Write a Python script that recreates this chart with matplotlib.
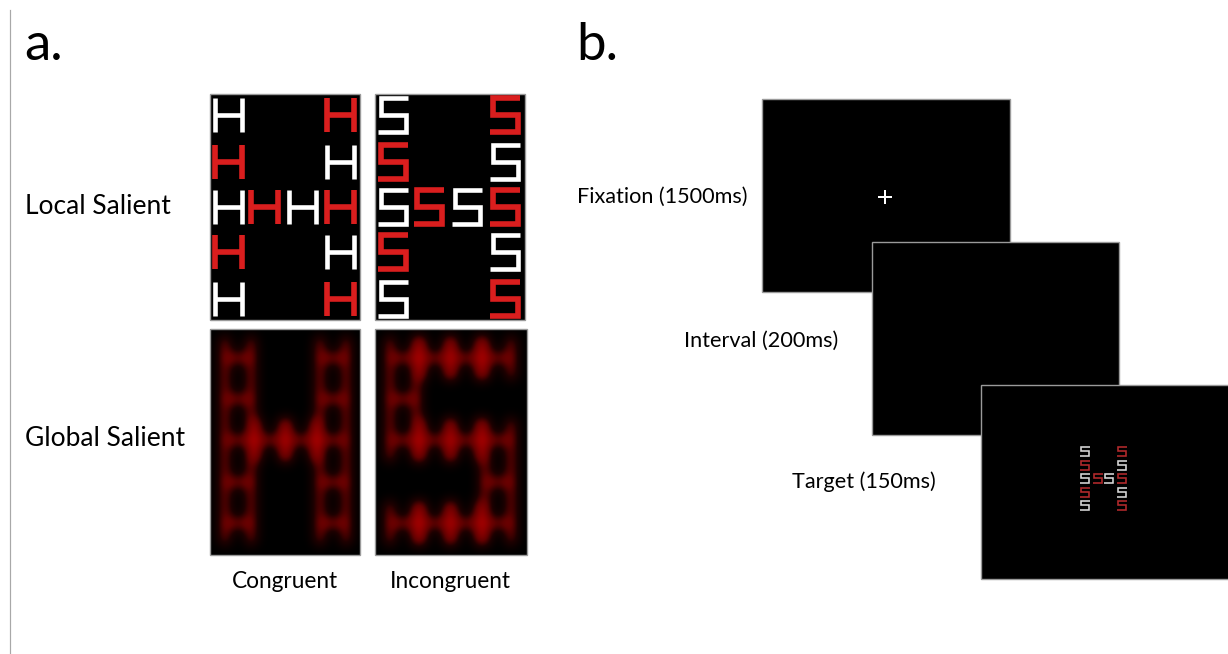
import numpy as np
import matplotlib.pyplot as plt
from matplotlib.patches import Rectangle
from matplotlib.colors import LinearSegmentedColormap

plt.rcParams['font.family'] = ['Lato', 'DejaVu Sans']

# letter arrangement, 5 rows x 4 cols: 0 = empty, 1 = white, 2 = red
LOCAL_LAYOUT = [[1, 0, 0, 2],
                [2, 0, 0, 1],
                [1, 2, 1, 2],
                [2, 0, 0, 1],
                [1, 0, 0, 2]]
# global shapes for the blurred (global salient) stimuli
GLOBAL_H = [[1, 0, 0, 1],
            [1, 0, 0, 1],
            [1, 1, 1, 1],
            [1, 0, 0, 1],
            [1, 0, 0, 1]]
GLOBAL_S = [[1, 1, 1, 1],
            [1, 0, 0, 0],
            [1, 1, 1, 1],
            [0, 0, 0, 1],
            [1, 1, 1, 1]]
ROW_LABELS = ["Local Salient", "Global Salient"]
COL_LABELS = ["Congruent", "Incongruent"]
STEPS = ["Fixation", "Interval", "Target"]
DURATIONS_MS = [1500, 200, 150]
PANEL_LABELS = ["a.", "b."]

W, H = 1228, 654
fig = plt.figure(figsize=(W / 100, H / 100), dpi=100)
ax = fig.add_axes([0, 0, 1, 1])

PX = 72 / 100  # points per pixel


def box(x0, y0, x1, y1, z=1):
    ax.add_patch(Rectangle((x0, y0), x1 - x0, y1 - y0, facecolor='black',
                           edgecolor='#9a9a9a', lw=1.0, zorder=z))


def draw_H(cx, cy, w, h, color, lw, z):
    kw = dict(color=color, lw=lw * PX, solid_capstyle='butt', zorder=z)
    ax.plot([cx - w / 2, cx - w / 2], [cy - h / 2, cy + h / 2], **kw)
    ax.plot([cx + w / 2, cx + w / 2], [cy - h / 2, cy + h / 2], **kw)
    ax.plot([cx - w / 2, cx + w / 2], [cy, cy], **kw)


def draw_S(cx, cy, w, h, color, lw, z):
    l, r, t, b = cx - w / 2, cx + w / 2, cy - h / 2, cy + h / 2
    ax.plot([r + lw / 2, l, l, r, r, l - lw / 2], [t, t, cy, cy, b, b],
            color=color, lw=lw * PX, solid_joinstyle='miter',
            solid_capstyle='butt', zorder=z)


def letter_grid(layout, kind, x0, y0, xs, ys, w, h, lw, colors, z, red_extra=0.0):
    for r, row in enumerate(layout):
        for c, v in enumerate(row):
            if v == 0:
                continue
            f = draw_H if kind == 'H' else draw_S
            f(x0 + xs[c], y0 + ys[r], w, h, colors[v], lw + (red_extra if v == 2 else 0), z)


def blurred(shape, size, xs, ys, w=26, h=41, stroke=5, sigma=6.2):
    ny, nx = size
    img = np.zeros((ny, nx))
    yy, xx = np.mgrid[0:ny, 0:nx] + 0.5
    for r, row in enumerate(shape):
        for c, v in enumerate(row):
            if not v:
                continue
            cx, cy = xs[c], ys[r]
            vert = (np.abs(yy - cy) <= h / 2)
            img[vert & (np.abs(xx - (cx - w / 2)) <= stroke / 2)] = 1
            img[vert & (np.abs(xx - (cx + w / 2)) <= stroke / 2)] = 1
            img[(np.abs(yy - cy) <= stroke / 2) & (np.abs(xx - cx) <= w / 2)] = 1
    k = np.arange(-int(3 * sigma), int(3 * sigma) + 1)
    k = np.exp(-k ** 2 / (2 * sigma ** 2))
    k /= k.sum()
    img = np.apply_along_axis(lambda m: np.convolve(m, k, mode='same'), 0, img)
    img = np.apply_along_axis(lambda m: np.convolve(m, k, mode='same'), 1, img)
    return np.clip(img / img.max(), 0, 1)


red_cmap = LinearSegmentedColormap.from_list(
    'blurred', [(0, '#000000'), (0.3, '#1e0000'), (0.6, '#600000'), (1, '#9a0000')])

# ---- panel a ----
local_cols = [18, 54, 92, 130]
local_rows = [21, 68, 113, 158, 205]
local_colors = {1: '#ffffff', 2: '#da1e1e'}
for i, kind in enumerate(['H', 'S']):
    x0 = 210 if i == 0 else 375
    box(x0, 94, x0 + 150, 320)
    letter_grid(LOCAL_LAYOUT, kind, x0, 94, local_cols, local_rows, 27 if kind == 'H' else 25,
                34, 4.6, local_colors, 3, red_extra=1.0)

glob_cols = [28, 60, 91, 123]
glob_rows = [29, 70, 111, 153, 194]
for i, shape in enumerate([GLOBAL_H, GLOBAL_S]):
    x0 = 210 if i == 0 else 375
    x1 = 360 if i == 0 else 527
    img = blurred(shape, (226, x1 - x0), glob_cols, glob_rows)
    ax.imshow(img, cmap=red_cmap, vmin=0, vmax=1, extent=[x0, x1, 555, 329],
              aspect='auto', interpolation='bilinear', zorder=2)
    ax.add_patch(Rectangle((x0, 329), x1 - x0, 226, fill=False,
                           edgecolor='#9a9a9a', lw=1.0, zorder=4))

ax.text(25, 207, ROW_LABELS[0], fontsize=19, va='center', ha='left')
ax.text(25, 439, ROW_LABELS[1], fontsize=19, va='center', ha='left')
ax.text(285, 581, COL_LABELS[0], fontsize=16.3, va='center', ha='center')
ax.text(450, 581, COL_LABELS[1], fontsize=16.3, va='center', ha='center')

# ---- panel b ----
frames = [(762, 99, 1010, 292), (872, 242, 1119, 435), (981, 385, 1240, 579)]
for i, (x0, y0, x1, y1) in enumerate(frames):
    box(x0, y0, x1, y1, z=5 + 2 * i)

# fixation cross
ax.plot([879, 891], [197, 197], color='white', lw=2 * PX, zorder=6)
ax.plot([885, 885], [191, 203], color='white', lw=2 * PX, zorder=6)

# target stimulus
letter_grid(LOCAL_LAYOUT, 'S', 1080, 451, [5, 18, 29, 42], [0, 14, 27, 41, 54],
            8, 9, 1.6, {1: '#d8d8d8', 2: '#b42a2c'}, 10)

label_pos = [(577, 197), (684, 341), (792, 482)]
for (x, y), name, ms in zip(label_pos, STEPS, DURATIONS_MS):
    ax.text(x, y, f"{name} ({ms}ms)", fontsize=15.6, va='center', ha='left')

ax.text(24, 45, PANEL_LABELS[0], fontsize=38, va='center', ha='left')
ax.text(576, 45, PANEL_LABELS[1], fontsize=38, va='center', ha='left')

ax.plot([10, 10], [10, 653], color='#a8a8a8', lw=1.2 * PX)

ax.set_xlim(0, W)
ax.set_ylim(H, 0)
ax.axis('off')
fig.savefig('out.png', dpi=100, facecolor='white')
